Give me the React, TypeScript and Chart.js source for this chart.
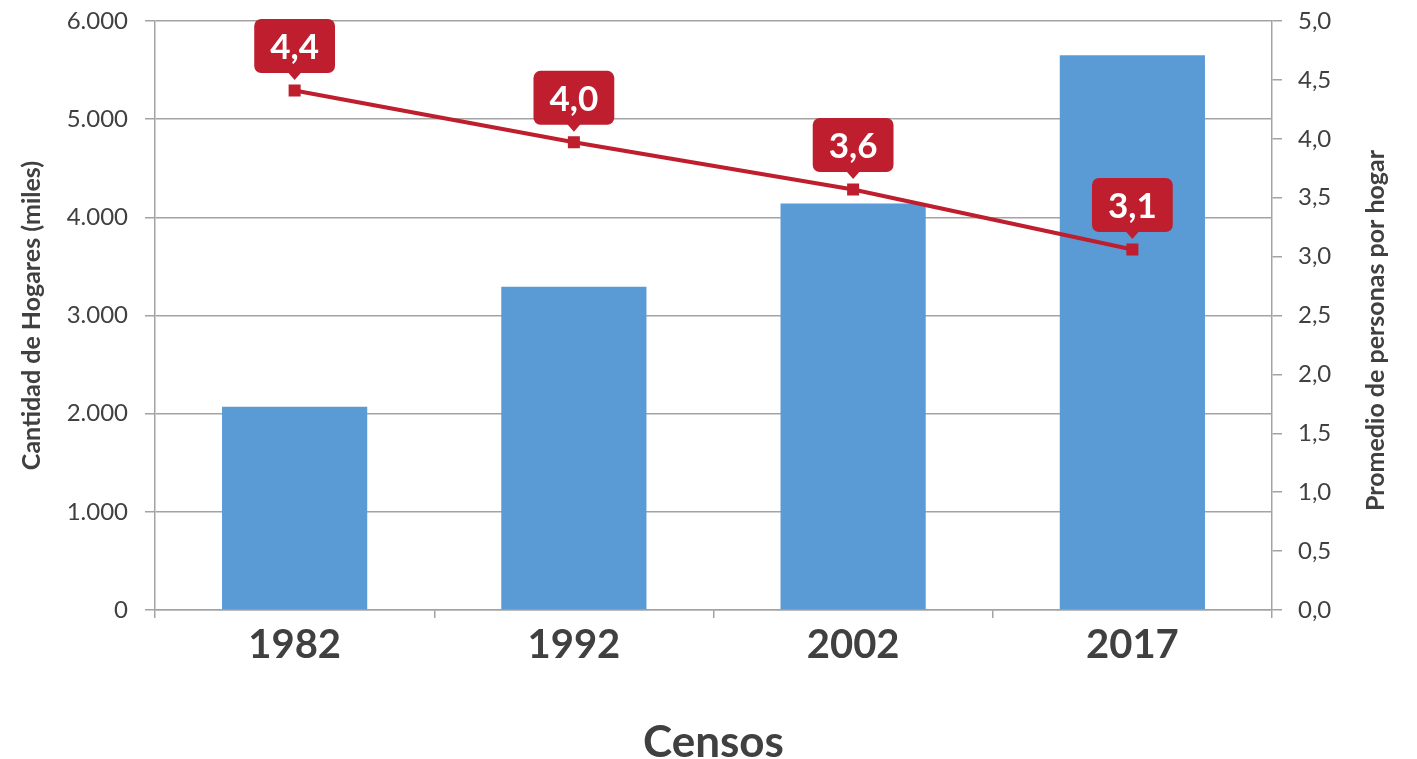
import React, { useEffect, useRef } from "react";
import { Chart, registerables } from "chart.js";

Chart.register(...registerables);

const categories = ["1982", "1992", "2002", "2017"];
const hogares = [2071, 3294, 4141, 5652];
const promedio = [4.41, 3.97, 3.57, 3.06];

const xTitle = "Censos";
const leftTitle = "Cantidad de Hogares (miles)";
const rightTitle = "Promedio de personas por hogar";

const RED = "#BE1E2D";
const BLUE = "#5B9BD5";
const GRID = "#A3A3A3";
const TEXT = "#404040";
const FONT = "Lato, 'Open Sans', sans-serif";

const fmtMiles = (v: number) => {
  if (v === 0) return "0";
  const k = Math.floor(v / 1000);
  const r = Math.round(v % 1000);
  return `${k}.${String(r).padStart(3, "0")}`;
};
const fmtDec = (v: number) => v.toFixed(1).replace(".", ",");

const calloutPlugin = {
  id: "callouts",
  afterDatasetsDraw(chart: any) {
    const meta = chart.getDatasetMeta(1);
    const ctx = chart.ctx as CanvasRenderingContext2D;
    ctx.save();
    ctx.font = `bold 35px ${FONT}`;
    meta.data.forEach((pt: any, i: number) => {
      const label = fmtDec(promedio[i]);
      const tw = ctx.measureText(label).width;
      const w = tw + 32;
      const h = 54;
      const x = pt.x;
      const bottom = pt.y - 17.5;
      const left = x - w / 2;
      const top = bottom - h;
      ctx.fillStyle = RED;
      ctx.beginPath();
      (ctx as any).roundRect(left, top, w, h, 7);
      ctx.fill();
      ctx.beginPath();
      ctx.moveTo(x - 7, bottom - 1);
      ctx.lineTo(x + 7, bottom - 1);
      ctx.lineTo(x, bottom + 7);
      ctx.closePath();
      ctx.fill();
      ctx.fillStyle = "#FFFFFF";
      ctx.textAlign = "center";
      ctx.textBaseline = "middle";
      ctx.fillText(label, x, top + h / 2 + 1.5);
    });
    ctx.restore();
  },
  afterDraw(chart: any) {
    const ctx = chart.ctx as CanvasRenderingContext2D;
    const area = chart.chartArea;
    ctx.save();
    ctx.font = `bold 25px ${FONT}`;
    ctx.fillStyle = TEXT;
    ctx.textAlign = "center";
    ctx.textBaseline = "middle";
    ctx.translate(chart.width - 41, (area.top + area.bottom) / 2 + 15);
    ctx.rotate(-Math.PI / 2);
    ctx.fillText(rightTitle, 0, 0);
    ctx.restore();
  },
};

export default function App() {
  const ref = useRef<HTMLCanvasElement | null>(null);

  useEffect(() => {
    if (!ref.current) return;
    const chart = new Chart(ref.current, {
      type: "bar",
      data: {
        labels: categories,
        datasets: [
          {
            type: "bar",
            label: "Hogares",
            data: hogares,
            backgroundColor: BLUE,
            borderWidth: 0,
            yAxisID: "y",
            order: 2,
            categoryPercentage: 1,
            barPercentage: 0.52,
          },
          {
            type: "line",
            label: "Promedio",
            data: promedio,
            borderColor: RED,
            backgroundColor: RED,
            borderWidth: 4,
            pointStyle: "rect",
            pointRadius: 8.5,
            pointHoverRadius: 8.5,
            pointBorderWidth: 0,
            pointBackgroundColor: RED,
            yAxisID: "y1",
            order: 1,
            tension: 0,
          } as any,
        ],
      },
      options: {
        animation: false,
        responsive: false,
        devicePixelRatio: 1,
        layout: { padding: { top: 21, left: 0, right: 0, bottom: 0 } },
        plugins: {
          legend: { display: false },
          tooltip: { enabled: false },
        },
        scales: {
          x: {
            offset: true,
            grid: {
              offset: true,
              drawOnChartArea: false,
              drawTicks: true,
              tickLength: 8,
              color: GRID,
              lineWidth: 1.5,
            },
            border: { display: true, color: GRID, width: 1.5 },
            ticks: {
              color: TEXT,
              font: { family: FONT, size: 40, weight: "bold" },
              padding: 3,
            },
            title: {
              display: true,
              text: xTitle,
              color: TEXT,
              font: { family: FONT, size: 44, weight: "bold", lineHeight: 1 },
              padding: { top: 0, bottom: -6 },
            },
            afterFit: (s: any) => {
              s.height = 149;
              s.paddingLeft = 0;
              s.paddingRight = 0;
            },
          },
          y: {
            position: "left",
            min: 0,
            max: 6000,
            ticks: {
              stepSize: 1000,
              color: TEXT,
              font: { family: FONT, size: 24 },
              padding: 17,
              callback: (v: any) => fmtMiles(Number(v)),
            },
            grid: {
              color: GRID,
              lineWidth: 1.5,
              drawTicks: true,
              tickLength: 10,
            },
            border: { display: true, color: GRID, width: 1.5 },
            title: {
              display: true,
              text: leftTitle,
              color: TEXT,
              font: { family: FONT, size: 25, weight: "bold" },
              padding: { top: 17, bottom: 0 },
            },
            afterFit: (s: any) => {
              s.width = 155;
              s.paddingTop = 0;
              s.paddingBottom = 0;
            },
          },
          y1: {
            position: "right",
            min: 0,
            max: 5,
            ticks: {
              stepSize: 0.5,
              color: TEXT,
              font: { family: FONT, size: 24 },
              padding: 16,
              callback: (v: any) => fmtDec(Number(v)),
            },
            grid: {
              drawOnChartArea: false,
              drawTicks: true,
              tickLength: 10,
              color: GRID,
              lineWidth: 1.5,
            },
            border: { display: true, color: GRID, width: 1.5 },
            afterFit: (s: any) => {
              s.width = 145;
              s.paddingTop = 0;
              s.paddingBottom = 0;
            },
          },
        },
      } as any,
      plugins: [calloutPlugin],
    });
    return () => chart.destroy();
  }, []);

  return (
    <canvas
      ref={ref}
      width={1417}
      height={759}
      style={{ position: "fixed", left: 0, top: 0, width: 1417, height: 759, background: "#FFFFFF" }}
    />
  );
}
